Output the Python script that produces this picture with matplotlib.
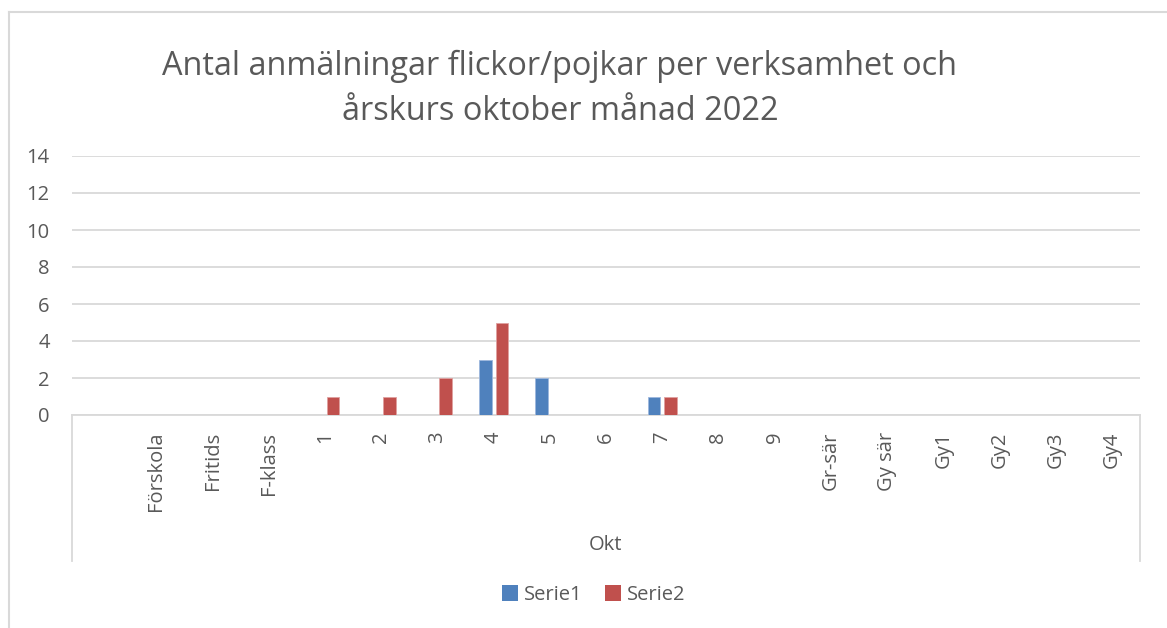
import matplotlib.pyplot as plt
import numpy as np
from matplotlib.lines import Line2D
from matplotlib.patches import Patch

# first slot is an empty category, as in the source sheet
categories = ["", "Förskola", "Fritids", "F-klass", "1", "2", "3", "4", "5", "6",
              "7", "8", "9", "Gr-sär", "Gy sär", "Gy1", "Gy2", "Gy3", "Gy4"]
serie1 = [0, 0, 0, 0, 0, 0, 0, 3, 2, 0, 1, 0, 0, 0, 0, 0, 0, 0, 0]
serie2 = [0, 0, 0, 0, 1, 1, 2, 5, 0, 0, 1, 0, 0, 0, 0, 0, 0, 0, 0]
y_ticks = [0, 2, 4, 6, 8, 10, 12, 14]

title = "Antal anmälningar flickor/pojkar per verksamhet och\nårskurs oktober månad 2022"
group_label = "Okt"

BLUE = "#4F81BD"
RED = "#C0504D"
TEXT = "#595959"
GRID = "#D9D9D9"

plt.rcParams["font.family"] = ["Open Sans", "DejaVu Sans"]

W, H = 1167, 628
fig = plt.figure(figsize=(W / 100, H / 100), dpi=100)

# plot area in pixels: left 72, right 1140, top 156, bottom 415
left, right, top, bottom = 72, 1140, 156, 415
ax = fig.add_axes([left / W, 1 - bottom / H, (right - left) / W, (bottom - top) / H])

x = np.arange(len(categories))
bw = 0.22
off = 0.146
ax.bar(x - off, serie1, width=bw, color=BLUE, edgecolor="#9DB7DD", linewidth=0.6, zorder=3)
ax.bar(x + off, serie2, width=bw, color=RED, edgecolor="#E0A0A0", linewidth=0.6, zorder=3)

ax.set_xlim(-0.5, len(categories) - 0.5)
ax.set_ylim(0, 14)
ax.set_yticks(y_ticks)
ax.set_yticklabels([str(v) for v in y_ticks], fontsize=14.5, color=TEXT)
ax.set_xticks(x)
ax.set_xticklabels(categories, rotation=90, va="top", fontsize=14.5, color=TEXT)
ax.tick_params(axis="y", length=0, pad=16)
ax.tick_params(axis="x", length=0, pad=12)
ax.grid(axis="y", color=GRID, linewidth=1.3, zorder=0)
for s in ["left", "right", "top"]:
    ax.spines[s].set_visible(False)
ax.spines["bottom"].set_color(GRID)
ax.spines["bottom"].set_linewidth(1.3)

# multi-level category box below the axis
drop = -(561 - bottom) / (bottom - top)
for xa in (0, 1):
    ax.plot([xa, xa], [0, drop], transform=ax.transAxes, color=GRID,
            linewidth=1.3, clip_on=False)

fig.text(606 / W, 1 - 545 / H, group_label, ha="center", va="center",
         fontsize=14.5, color=TEXT)

fig.text(560 / W, 1 - 89 / H, title, ha="center", va="center",
         fontsize=23.4, color=TEXT, linespacing=1.45)

handles = [Patch(facecolor=BLUE, edgecolor="none"), Patch(facecolor=RED, edgecolor="none")]
fig.legend(handles, ["Serie1", "Serie2"], loc="center", bbox_to_anchor=(594 / W, 1 - 595 / H),
           ncol=2, frameon=False, fontsize=14.5, handlelength=0.8, handleheight=0.8,
           handletextpad=0.3, columnspacing=1.1, labelcolor=TEXT)

# chart area border (left and top edges visible)
fig.add_artist(Line2D([9 / W, 9 / W], [0, 1 - 12 / H], color=GRID, linewidth=1.5))
fig.add_artist(Line2D([9 / W, 1], [1 - 12 / H, 1 - 12 / H], color=GRID, linewidth=1.5))

fig.savefig("out.png", dpi=100, facecolor="white")
